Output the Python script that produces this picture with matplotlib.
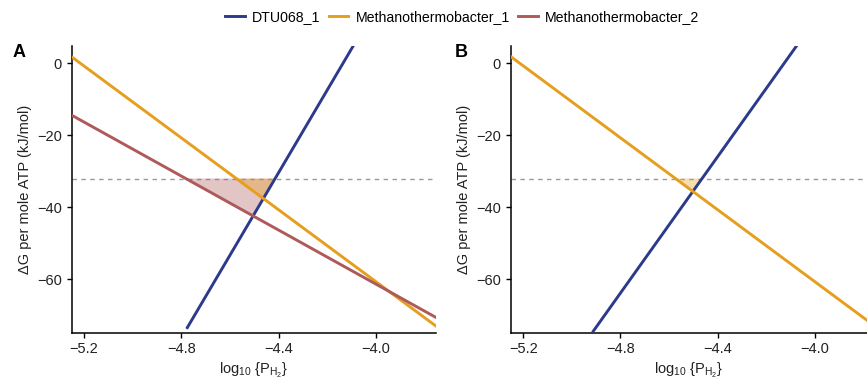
import numpy as np
import matplotlib
matplotlib.use("Agg")
import matplotlib.pyplot as plt
from matplotlib.lines import Line2D

plt.rcParams['font.family'] = ['Liberation Sans', 'DejaVu Sans']
plt.rcParams['mathtext.fontset'] = 'custom'
plt.rcParams['mathtext.rm'] = 'Liberation Sans'
plt.rcParams['mathtext.it'] = 'Liberation Sans:italic'

# line endpoints (log10 PH2, kJ/mol)
series_names = ['DTU068_1', 'Methanothermobacter_1', 'Methanothermobacter_2']
colors = {'DTU068_1': '#2B3A8A', 'Methanothermobacter_1': '#E69E1E',
          'Methanothermobacter_2': '#AE5A5A'}

meth1_x = [-5.25, -3.753]
meth1_y = [1.8, -73.0]
meth2_x = [-5.25, -3.753]
meth2_y = [-14.4, -70.6]
dtu_a_x = [-4.775, -4.093]
dtu_a_y = [-73.4, 4.9]
dtu_b_x = [-4.912, -4.075]
dtu_b_y = [-74.4, 4.9]

atp_cutoff = -32
xticks = [-5.2, -4.8, -4.4, -4.0]
yticks = [0, -20, -40, -60]


def line_coef(xs, ys):
    m = (ys[1] - ys[0]) / (xs[1] - xs[0])
    return m, ys[0] - m * xs[0]


def feasible_triangle(sx, sy, bx, by, level):
    # region below the cutoff, above the methanogen line, left of DTU068 line
    ms, cs = line_coef(sx, sy)
    mb, cb = line_coef(bx, by)
    x1 = (level - cs) / ms
    x2 = (level - cb) / mb
    x3 = (cb - cs) / (ms - mb)
    return [x1, x2, x3], [level, level, ms * x3 + cs]


def style_axes(ax, xlim):
    ax.set_xlim(*xlim)
    ax.set_ylim(-74.8, 4.9)
    ax.set_xticks(xticks)
    ax.set_xticklabels([f'{t:.1f}'.replace('-', '\u2212') for t in xticks])
    ax.set_yticks(yticks)
    ax.set_yticklabels([str(t).replace('-', '\u2212') for t in yticks])
    for s in ['top', 'right']:
        ax.spines[s].set_visible(False)
    for s in ['left', 'bottom']:
        ax.spines[s].set_linewidth(1.1)
    ax.tick_params(length=3.5, width=1, labelsize=10.5, colors='black',
                   labelcolor='#222222')
    ax.set_xlabel(r'log$_{10}$ {P$_{\mathrm{H}_2}$}', fontsize=10.5,
                  color='#222222', labelpad=3)
    ax.set_ylabel('\u0394G per mole ATP (kJ/mol)', fontsize=10.5,
                  color='#222222', labelpad=4)
    ax.axhline(atp_cutoff, color='#9a9a9a', lw=1, ls=(0, (3.2, 3.2)), zorder=1)


fig = plt.figure(figsize=(8.67, 3.78), dpi=100)
ax_a = fig.add_axes([0.0827, 0.12, 0.4203, 0.759])
ax_b = fig.add_axes([0.589, 0.12, 0.4106, 0.759])

# panel A
px, py = feasible_triangle(meth2_x, meth2_y, dtu_a_x, dtu_a_y, atp_cutoff)
ax_a.fill(px, py, color=colors['Methanothermobacter_2'], alpha=0.35, lw=0, zorder=2)
px, py = feasible_triangle(meth1_x, meth1_y, dtu_a_x, dtu_a_y, atp_cutoff)
ax_a.fill(px, py, color=colors['Methanothermobacter_1'], alpha=0.35, lw=0, zorder=2)
ax_a.plot(dtu_a_x, dtu_a_y, color=colors['DTU068_1'], lw=2.1, zorder=3)
ax_a.plot(meth1_x, meth1_y, color=colors['Methanothermobacter_1'], lw=2.1, zorder=3)
ax_a.plot(meth2_x, meth2_y, color=colors['Methanothermobacter_2'], lw=2.1, zorder=3)
style_axes(ax_a, (-5.25, -3.753))

# panel B
px, py = feasible_triangle(meth1_x, meth1_y, dtu_b_x, dtu_b_y, atp_cutoff)
ax_b.fill(px, py, color=colors['Methanothermobacter_1'], alpha=0.35, lw=0, zorder=2)
ax_b.plot(dtu_b_x, dtu_b_y, color=colors['DTU068_1'], lw=2.1, zorder=3)
ax_b.plot(meth1_x, meth1_y, color=colors['Methanothermobacter_1'], lw=2.1, zorder=3)
style_axes(ax_b, (-5.252, -3.787))

fig.text(0.015, 0.861, 'A', fontsize=13, fontweight='bold', va='center')
fig.text(0.525, 0.861, 'B', fontsize=13, fontweight='bold', va='center')

handles = [Line2D([], [], color=colors[n], lw=2.1) for n in series_names]
fig.legend(handles, series_names, loc='center', bbox_to_anchor=(0.533, 0.955),
           ncol=3, frameon=False, fontsize=10.2, handlelength=1.4,
           handletextpad=0.5, columnspacing=0.6)

fig.savefig('out.png', dpi=100)
